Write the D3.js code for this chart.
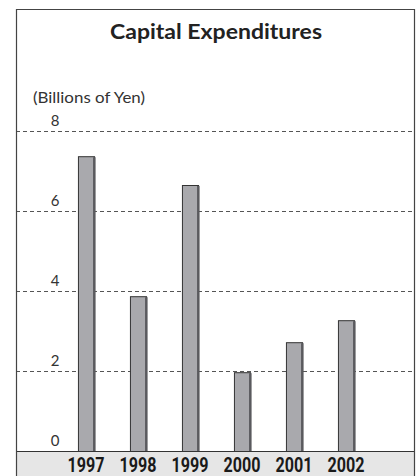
<!DOCTYPE html>
<html>
<head>
<meta charset="utf-8">
<script src="https://cdn.jsdelivr.net/npm/d3@7.9.0/dist/d3.min.js"></script>
<style>
  body { margin: 0; background: #fff; }
  svg { display: block; }
</style>
</head>
<body>
<div id="chart"></div>
<script>
const years = ['1997', '1998', '1999', '2000', '2001', '2002'];
const capex = [7.37, 3.87, 6.65, 1.97, 2.72, 3.27];
const yTicks = [0, 2, 4, 6, 8];

const width = 417;
const height = 476;
const frame = { left: 16, right: 414, top: 9 };
const zeroY = 451;

const svg = d3.select('#chart')
    .append('svg')
    .attr('width', width)
    .attr('height', height);

const yScale = d3.scaleLinear()
    .domain([0, 8])
    .range([zeroY, 131]);

const xScale = d3.scaleBand()
    .domain(years)
    .range([60, 372])
    .paddingInner(0.69)
    .paddingOuter(0.345);

// gray band under the plot
svg.append('rect')
    .attr('x', frame.left)
    .attr('y', zeroY)
    .attr('width', frame.right - frame.left)
    .attr('height', height - zeroY)
    .attr('fill', '#e6e6e6');

// gridlines
svg.append('g')
    .selectAll('line')
    .data(yTicks.filter(d => d > 0))
    .join('line')
    .attr('x1', frame.left)
    .attr('x2', frame.right)
    .attr('y1', d => Math.round(yScale(d)) + 0.5)
    .attr('y2', d => Math.round(yScale(d)) + 0.5)
    .attr('stroke', '#555')
    .attr('stroke-dasharray', '4,3');

// tick labels
svg.append('g')
    .selectAll('text')
    .data(yTicks)
    .join('text')
    .attr('x', 55)
    .attr('y', d => yScale(d) - 5)
    .attr('text-anchor', 'middle')
    .style('font-family', 'Lato, "DejaVu Sans", sans-serif')
    .style('font-size', '15px')
    .style('fill', '#333')
    .text(d => d);

// bars
const bars = svg.append('g');
bars.selectAll('rect.bar')
    .data(capex)
    .join('rect')
    .attr('class', 'bar')
    .attr('x', (d, i) => xScale(years[i]) + 0.5)
    .attr('y', d => yScale(d) + 0.5)
    .attr('width', xScale.bandwidth())
    .attr('height', d => zeroY - yScale(d))
    .attr('fill', '#a9a9ad')
    .attr('stroke', '#333')
    .attr('stroke-width', 1);

// right shadow edge of bars
bars.selectAll('rect.shade')
    .data(capex)
    .join('rect')
    .attr('class', 'shade')
    .attr('x', (d, i) => xScale(years[i]) + xScale.bandwidth() - 1)
    .attr('y', d => yScale(d) + 1)
    .attr('width', 2.5)
    .attr('height', d => zeroY - yScale(d) - 1)
    .attr('fill', '#5a5a5e');

// band top line
svg.append('line')
    .attr('x1', frame.left)
    .attr('x2', frame.right)
    .attr('y1', zeroY + 0.5)
    .attr('y2', zeroY + 0.5)
    .attr('stroke', '#333')
    .attr('stroke-width', 1.2);

// frame
svg.append('path')
    .attr('d', `M${frame.left + 0.5},${height} V${frame.top + 0.5} H${frame.right + 0.5} V${height}`)
    .attr('fill', 'none')
    .attr('stroke', '#444')
    .attr('stroke-width', 1.2);

// year labels (condensed look)
svg.append('g')
    .selectAll('text')
    .data(years)
    .join('text')
    .attr('x', d => xScale(d) + xScale.bandwidth() / 2)
    .attr('y', 472)
    .attr('text-anchor', 'middle')
    .attr('textLength', 37)
    .attr('lengthAdjust', 'spacingAndGlyphs')
    .style('font-family', 'Roboto, "DejaVu Sans", sans-serif')
    .style('font-weight', 'bold')
    .style('font-size', '20px')
    .style('fill', '#1a1a1a')
    .text(d => d);

// title
svg.append('text')
    .attr('x', 216)
    .attr('y', 39)
    .attr('text-anchor', 'middle')
    .attr('textLength', 212)
    .attr('lengthAdjust', 'spacingAndGlyphs')
    .style('font-family', 'Lato, "DejaVu Sans", sans-serif')
    .style('font-weight', 'bold')
    .style('font-size', '20px')
    .style('fill', '#222')
    .text('Capital Expenditures');

// units
svg.append('text')
    .attr('x', 33)
    .attr('y', 103)
    .attr('textLength', 112)
    .attr('lengthAdjust', 'spacingAndGlyphs')
    .style('font-family', 'Lato, "DejaVu Sans", sans-serif')
    .style('font-size', '15px')
    .style('fill', '#333')
    .text('(Billions of Yen)');
</script>
</body>
</html>
